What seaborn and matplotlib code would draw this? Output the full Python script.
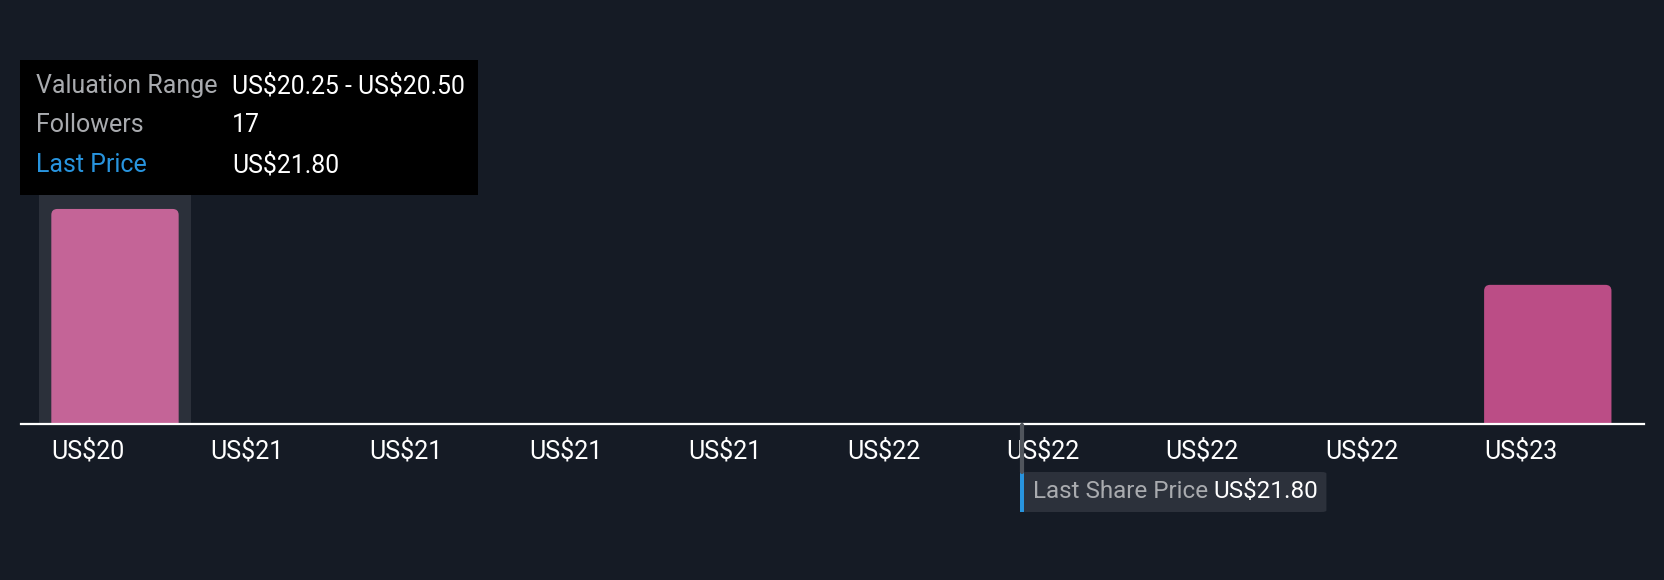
import numpy as np
import pandas as pd
import seaborn as sns
import matplotlib
matplotlib.use("Agg")
import matplotlib.pyplot as plt
from matplotlib.patches import FancyBboxPatch, Rectangle
from matplotlib.lines import Line2D

# ---------------- data ----------------
bin_starts = [20.25, 20.50, 20.75, 21.00, 21.25, 21.50, 21.75, 22.00, 22.25, 22.50]
bin_width = 0.25
followers = [17, 0, 0, 0, 0, 0, 0, 0, 0, 11]
tick_labels = ["US$20", "US$21", "US$21", "US$21", "US$21",
               "US$22", "US$22", "US$22", "US$22", "US$23"]
last_price = 21.80
last_price_label = "US$21.80"
hover_index = 0
tooltip_labels = ["Valuation Range", "Followers", "Last Price"]
tooltip_values = ["US$20.25 - US$20.50", "17", "US$21.80"]

# ---------------- style ----------------
BG = "#151b25"
BAR = "#bb4d86"
BAR_HOVER = "#c46497"
HIGHLIGHT = "#2b303a"
GREY_TXT = "#a9abaf"
BLUE = "#2894de"
FS = 18

W, H, DPI = 1664, 580, 100
sns.set_theme(style="dark", rc={"axes.facecolor": BG, "figure.facecolor": BG})
plt.rcParams["font.family"] = ["Roboto", "DejaVu Sans"]

fig = plt.figure(figsize=(W / DPI, H / DPI), dpi=DPI)
fig.patch.set_facecolor(BG)

ax_left, ax_right, ax_base = 21, 1644, 424
ax_h = 253
ax = fig.add_axes([ax_left / W, (H - ax_base) / H, (ax_right - ax_left) / W, ax_h / H])
ax.set_facecolor(BG)

centers = [s + bin_width / 2 for s in bin_starts]
df = pd.DataFrame({"center": centers, "followers": followers})

# hover highlight band
hc = centers[hover_index]
ax.axvspan(hc - 0.48 * bin_width, hc + 0.48 * bin_width, color=HIGHLIGHT, zorder=0, lw=0)

sns.barplot(data=df, x="center", y="followers", native_scale=True, width=0.8,
            color=BAR, errorbar=None, ax=ax, zorder=2)

ax.set_xlim(bin_starts[0] - 0.0226, bin_starts[-1] + bin_width + 0.0261)
ax.set_ylim(0, 20)

# replace bars with rounded-top versions
px_per_x = (ax_right - ax_left) / (ax.get_xlim()[1] - ax.get_xlim()[0])
px_per_y = ax_h / 20
r_px = 6
bars = [p for p in ax.patches if isinstance(p, Rectangle) and p.get_width() < bin_width * 0.9]
for p in bars:
    x, w, h = p.get_x(), p.get_width(), p.get_height()
    p.set_visible(False)
    if h <= 0:
        continue
    idx = int(round((x + w / 2 - centers[0]) / bin_width))
    col = BAR_HOVER if idx == hover_index else BAR
    rs = r_px / px_per_x
    fb = FancyBboxPatch((x, -1.0), w, h + 1.0,
                        boxstyle=f"round,pad=0,rounding_size={rs}",
                        mutation_aspect=px_per_x / px_per_y,
                        fc=col, ec="none", zorder=3, clip_on=True)
    ax.add_patch(fb)

# axes cosmetics
for s in ["top", "right", "left"]:
    ax.spines[s].set_visible(False)
ax.spines["bottom"].set_color("white")
ax.spines["bottom"].set_linewidth(1.6)
ax.spines["bottom"].set_zorder(5)
ax.set_yticks([])
ax.set_xlabel("")
ax.set_ylabel("")
ax.grid(False)
ax.set_xticks([s + 0.1 * bin_width for s in bin_starts])
ax.set_xticklabels(tick_labels, ha="left", color="white", fontsize=FS)
ax.tick_params(axis="x", length=0, pad=10.5)

# last price marker
fig.canvas.draw()
lp_px = ax.transData.transform((last_price, 0))[0]
fig.add_artist(Line2D([lp_px / W, lp_px / W], [(H - ax_base - 1) / H, (H - 472) / H],
                      color="#50555c", lw=3, transform=fig.transFigure))
box_l, box_t, box_w, box_h = lp_px - 2, 472, 306, 40
fig.add_artist(FancyBboxPatch(((box_l) / W, (H - box_t - box_h) / H), box_w / W, box_h / H,
                              boxstyle="round,pad=0,rounding_size=0.003",
                              transform=fig.transFigure, fc="#2c313b", ec="none"))
fig.add_artist(Rectangle((box_l / W, (H - box_t - box_h) / H), 3.5 / W, box_h / H,
                         transform=fig.transFigure, fc=BLUE, ec="none"))
t1 = fig.text((box_l + 13) / W, (H - box_t - box_h / 2) / H, "Last Share Price",
              color=GREY_TXT, fontsize=17.5, va="center", ha="left", parse_math=False)
fig.canvas.draw()
bb = t1.get_window_extent()
fig.text((bb.x1 + 5) / W, (H - box_t - box_h / 2) / H, last_price_label,
         color="white", fontsize=17.5, va="center", ha="left", parse_math=False)

# tooltip
fig.add_artist(Rectangle((20 / W, (H - 195) / H), 458 / W, 135 / H,
                         transform=fig.transFigure, fc="black", ec="none", zorder=10))
row_y = [86, 125, 165]
for lab, val, y in zip(tooltip_labels, tooltip_values, row_y):
    c = BLUE if lab == "Last Price" else GREY_TXT
    fig.text(36 / W, (H - y) / H, lab, color=c, fontsize=FS, va="center", ha="left",
             zorder=11, parse_math=False)
    fig.text(232 / W, (H - y) / H, val, color="white", fontsize=17.8, va="center", ha="left",
             zorder=11, parse_math=False)

fig.savefig("out.png", dpi=DPI, facecolor=BG)
